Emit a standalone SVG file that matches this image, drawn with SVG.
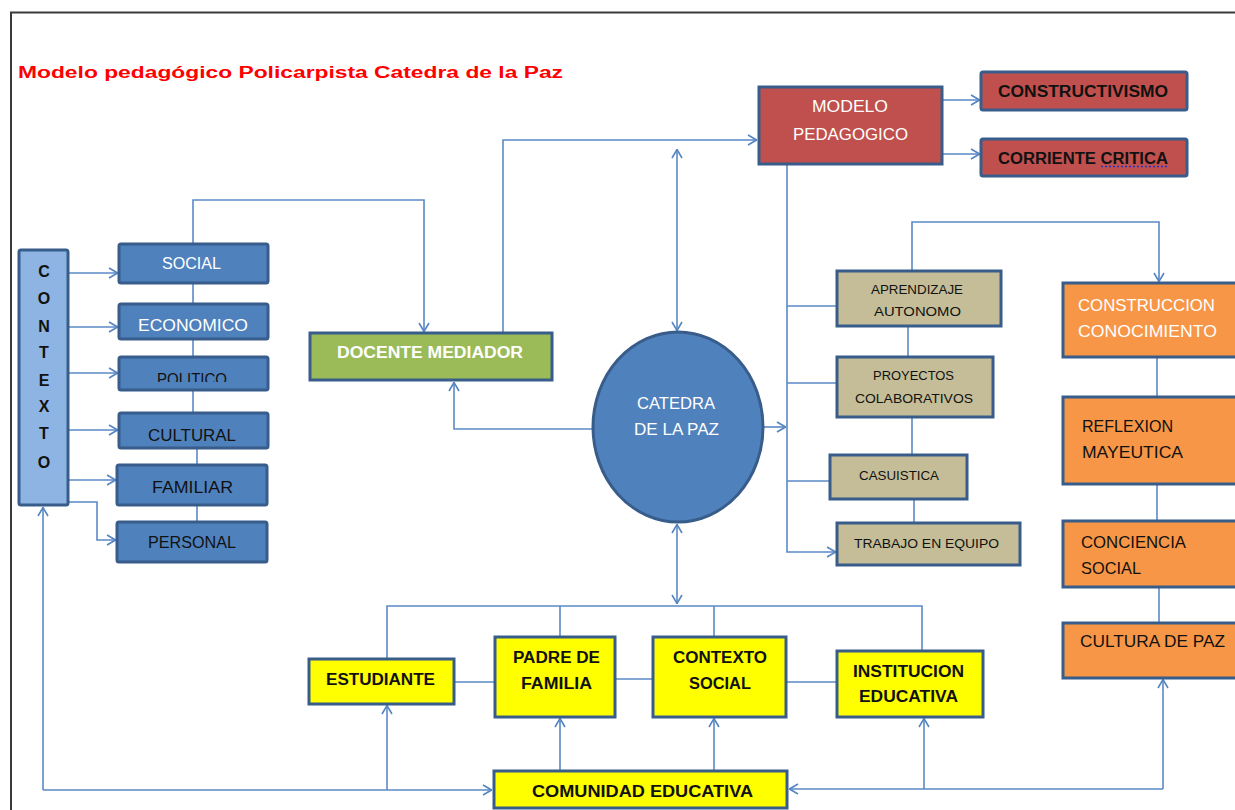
<svg xmlns="http://www.w3.org/2000/svg" width="1235" height="810" viewBox="0 0 1235 810">
<defs>
<marker id="ah" viewBox="0 0 10 12" refX="10" refY="6" markerWidth="10" markerHeight="12" markerUnits="userSpaceOnUse" orient="auto-start-reverse">
<path d="M1,1 L9.5,6 L1,11" fill="none" stroke="#5585C3" stroke-width="1.6"/>
</marker>
<clipPath id="clipPol"><rect x="120" y="357" width="148" height="25"/></clipPath>
<style>
.c{fill:none;stroke:#5A8AC6;stroke-width:1.6}
.a{marker-end:url(#ah)}
.d{marker-start:url(#ah);marker-end:url(#ah)}
.n{stroke:#385D8A;stroke-width:3}
.blue{fill:#4F81BD}
.lb{fill:#8DB4E2}
.green{fill:#9BBB59}
.red{fill:#C0504D}
.tan{fill:#C4BD97}
.orange{fill:#F79646}
.yellow{fill:#FFFF00}
text{font-family:"Liberation Sans",Arial,sans-serif;font-size:16px}
.w{fill:#FFFFFF}
.k{fill:#111111}
.b{font-weight:bold}
.s{font-size:13.5px}
.o{font-size:17px}
</style>
</defs>
<rect x="0" y="0" width="1235" height="810" fill="#FFFFFF"/>
<rect x="11" y="12.5" width="1240" height="810" fill="none" stroke="#3A3A3A" stroke-width="2"/>
<text x="18" y="78" fill="#FF0000" font-weight="bold" font-size="22" textLength="545" lengthAdjust="spacingAndGlyphs">Modelo pedagógico Policarpista Catedra de la Paz</text>

<g id="connectors">
<path class="c a" d="M68,273 H118"/>
<path class="c a" d="M68,327 H118"/>
<path class="c a" d="M68,373 H118"/>
<path class="c a" d="M68,430 H118"/>
<path class="c a" d="M68,480 H116"/>
<path class="c a" d="M68,502 H97 V540 H116"/>
<path class="c a" d="M193,244 V200 H424 V332"/>
<path class="c" d="M193,283 V304 M193,339 V357 M193,390 V413 M197,448 V465 M197,505 V522"/>
<path class="c a" d="M503,333 V140 H757"/>
<path class="c a" d="M593,429 H454 V382"/>
<path class="c d" d="M677,149 V331"/>
<path class="c d" d="M677,524 V604"/>
<path class="c a" d="M763,427 H786"/>
<path class="c a" d="M942,100 H980"/>
<path class="c a" d="M942,154 H980"/>
<path class="c a" d="M787,165 V552 H836"/>
<path class="c" d="M787,306 H837 M787,383 H837 M787,481 H830"/>
<path class="c" d="M908,326 V357 M912,417 V455 M914,499 V523"/>
<path class="c a" d="M912,271 V222 H1159 V282"/>
<path class="c" d="M1157,357 V397 M1157,484 V521 M1159,587 V623"/>
<path class="c" d="M387,659 V606 H922 V651 M560,606 V637 M714,606 V637"/>
<path class="c" d="M454,682 H495 M615,679 H653 M786,682 H837"/>
<path class="c a" d="M560,771 V718"/>
<path class="c a" d="M714,771 V718"/>
<path class="c a" d="M43,790 H492"/>
<path class="c a" d="M43,790 V507"/>
<path class="c a" d="M387,790 V705"/>
<path class="c a" d="M1163,789 H789"/>
<path class="c a" d="M1163,789 V679"/>
<path class="c a" d="M924,789 V718"/>
</g>

<g id="contexto">
<rect class="n lb" x="19" y="250" width="49" height="255" rx="2"/>
<g class="k b" text-anchor="middle">
<text x="44" y="277" font-size="14.5">C</text>
<text x="44" y="304" font-size="14.5">O</text>
<text x="44" y="332" font-size="14.5">N</text>
<text x="44" y="358" font-size="14.5">T</text>
<text x="44" y="386" font-size="14.5">E</text>
<text x="44" y="412" font-size="14.5">X</text>
<text x="44" y="439" font-size="14.5">T</text>
<text x="44" y="468" font-size="14.5">O</text>
</g>
</g>
<g id="social"><rect class="n blue" x="119" y="244" width="149" height="39" rx="2"/><text class="w" x="162" y="269" textLength="59" lengthAdjust="spacingAndGlyphs">SOCIAL</text></g>
<g id="economico"><rect class="n blue" x="119" y="304" width="149" height="35" rx="2"/><text class="w" x="138" y="331" textLength="110" lengthAdjust="spacingAndGlyphs">ECONOMICO</text></g>
<g id="politico"><rect class="n blue" x="119" y="357" width="149" height="33" rx="2"/><text class="k" x="157" y="385" textLength="70" lengthAdjust="spacingAndGlyphs" clip-path="url(#clipPol)">POLITICO</text></g>
<g id="cultural"><rect class="n blue" x="119" y="413" width="149" height="35" rx="2"/><text class="k" x="148" y="441" textLength="88" lengthAdjust="spacingAndGlyphs">CULTURAL</text></g>
<g id="familiar"><rect class="n blue" x="117" y="465" width="150" height="40" rx="2"/><text class="k" x="152" y="493" textLength="81" lengthAdjust="spacingAndGlyphs">FAMILIAR</text></g>
<g id="personal"><rect class="n blue" x="117" y="522" width="150" height="40" rx="2"/><text class="k" x="148" y="548" textLength="88" lengthAdjust="spacingAndGlyphs">PERSONAL</text></g>

<g id="docente"><rect class="n green" x="310" y="333" width="242" height="47"/><text class="w b" x="337" y="358" textLength="186" lengthAdjust="spacingAndGlyphs">DOCENTE MEDIADOR</text></g>

<g id="catedra"><ellipse class="n blue" cx="678" cy="427" rx="85" ry="95"/><text class="w" x="637" y="409" textLength="78" lengthAdjust="spacingAndGlyphs">CATEDRA</text><text class="w" x="634" y="435" textLength="85" lengthAdjust="spacingAndGlyphs">DE LA PAZ</text></g>

<g id="modelo"><rect class="n red" x="759" y="87" width="183" height="77"/><text class="w" x="812" y="112" textLength="76" lengthAdjust="spacingAndGlyphs">MODELO</text><text class="w" x="793" y="140" textLength="115" lengthAdjust="spacingAndGlyphs">PEDAGOGICO</text></g>
<g id="constructivismo"><rect class="n red" x="981" y="72" width="206" height="38" rx="2"/><text class="k b" x="998" y="97" textLength="170" lengthAdjust="spacingAndGlyphs">CONSTRUCTIVISMO</text></g>
<g id="corriente"><rect class="n red" x="981" y="139" width="206" height="37" rx="2"/><text class="k b" x="998" y="164" textLength="170" lengthAdjust="spacingAndGlyphs">CORRIENTE CRITICA</text><path d="M1101,166.5 H1168" stroke="#2233CC" stroke-width="1.5" stroke-dasharray="2,2" fill="none"/></g>

<g id="aprendizaje"><rect class="n tan" x="837" y="271" width="164" height="55"/><text class="k s" x="871" y="294" textLength="92" lengthAdjust="spacingAndGlyphs">APRENDIZAJE</text><text class="k s" x="874" y="316" textLength="87" lengthAdjust="spacingAndGlyphs">AUTONOMO</text></g>
<g id="proyectos"><rect class="n tan" x="837" y="357" width="156" height="60"/><text class="k s" x="873" y="380" textLength="81" lengthAdjust="spacingAndGlyphs">PROYECTOS</text><text class="k s" x="855" y="403" textLength="118" lengthAdjust="spacingAndGlyphs">COLABORATIVOS</text></g>
<g id="casuistica"><rect class="n tan" x="830" y="455" width="137" height="44"/><text class="k s" x="859" y="480" textLength="80" lengthAdjust="spacingAndGlyphs">CASUISTICA</text></g>
<g id="trabajo"><rect class="n tan" x="837" y="523" width="183" height="42"/><text class="k s" x="854" y="548" textLength="145" lengthAdjust="spacingAndGlyphs">TRABAJO EN EQUIPO</text></g>

<g id="construccion"><rect class="n orange" x="1063" y="283" width="180" height="74"/><text class="w o" x="1078" y="311" textLength="137" lengthAdjust="spacingAndGlyphs">CONSTRUCCION</text><text class="w o" x="1078" y="337" textLength="139" lengthAdjust="spacingAndGlyphs">CONOCIMIENTO</text></g>
<g id="reflexion"><rect class="n orange" x="1063" y="397" width="180" height="87"/><text class="k o" x="1082" y="432" textLength="91" lengthAdjust="spacingAndGlyphs">REFLEXION</text><text class="k o" x="1082" y="458" textLength="101" lengthAdjust="spacingAndGlyphs">MAYEUTICA</text></g>
<g id="conciencia"><rect class="n orange" x="1063" y="521" width="180" height="66"/><text class="k o" x="1081" y="548" textLength="105" lengthAdjust="spacingAndGlyphs">CONCIENCIA</text><text class="k o" x="1081" y="574" textLength="60" lengthAdjust="spacingAndGlyphs">SOCIAL</text></g>
<g id="cultura"><rect class="n orange" x="1063" y="623" width="180" height="55"/><text class="k o" x="1080" y="647" textLength="145" lengthAdjust="spacingAndGlyphs">CULTURA DE PAZ</text></g>

<g id="estudiante"><rect class="n yellow" x="309" y="659" width="145" height="45"/><text class="k b" x="326" y="685" textLength="109" lengthAdjust="spacingAndGlyphs">ESTUDIANTE</text></g>
<g id="padre"><rect class="n yellow" x="495" y="637" width="120" height="80"/><text class="k b" x="513" y="663" textLength="87" lengthAdjust="spacingAndGlyphs">PADRE DE</text><text class="k b" x="521" y="689" textLength="71" lengthAdjust="spacingAndGlyphs">FAMILIA</text></g>
<g id="contextosocial"><rect class="n yellow" x="653" y="637" width="133" height="80"/><text class="k b" x="673" y="663" textLength="94" lengthAdjust="spacingAndGlyphs">CONTEXTO</text><text class="k b" x="689" y="689" textLength="62" lengthAdjust="spacingAndGlyphs">SOCIAL</text></g>
<g id="institucion"><rect class="n yellow" x="837" y="651" width="146" height="66"/><text class="k b" x="853" y="677" textLength="111" lengthAdjust="spacingAndGlyphs">INSTITUCION</text><text class="k b" x="859" y="702" textLength="99" lengthAdjust="spacingAndGlyphs">EDUCATIVA</text></g>
<g id="comunidad"><rect class="n yellow" x="494" y="771" width="293" height="37"/><text class="k b" x="532" y="797" textLength="221" lengthAdjust="spacingAndGlyphs">COMUNIDAD EDUCATIVA</text></g>
</svg>
